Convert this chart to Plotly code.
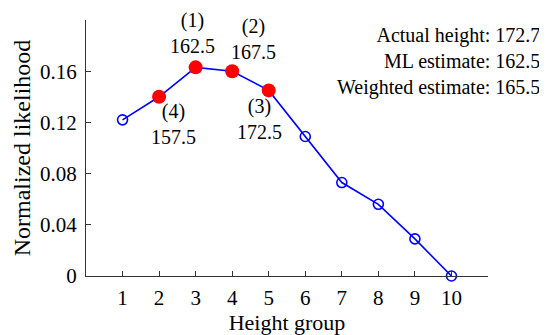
import plotly.graph_objects as go

groups = [1, 2, 3, 4, 5, 6, 7, 8, 9, 10]
likelihood = [0.122, 0.140, 0.163, 0.160, 0.145, 0.109, 0.073, 0.056, 0.029, 0.0]
selected_groups = [2, 3, 4, 5]
selected_likelihood = [0.140, 0.163, 0.160, 0.145]
y_ticks = [0, 0.04, 0.08, 0.12, 0.16]
y_tick_labels = ["0", "0.04", "0.08", "0.12", "0.16"]
rank_labels = ["(1)<br>162.5", "(2)<br>167.5", "(3)<br>172.5", "(4)<br>157.5"]
rank_x = [2.91, 4.59, 4.755, 2.385]
rank_y = [0.190, 0.185, 0.1225, 0.119]
info_text = "Actual height: 172.7<br>ML estimate: 162.5<br>Weighted estimate: 165.5"

FONT = "Liberation Serif"

fig = go.Figure()
fig.add_trace(go.Scatter(
    x=groups, y=likelihood, mode="lines+markers",
    line=dict(color="#0000FF", width=1.6),
    marker=dict(symbol="circle-open", size=10, color="#0000FF", line=dict(width=1.6)),
    cliponaxis=False, showlegend=False,
))
fig.add_trace(go.Scatter(
    x=selected_groups, y=selected_likelihood, mode="markers",
    marker=dict(symbol="circle", size=14, color="#FF0000", line=dict(width=0)),
    cliponaxis=False, showlegend=False,
))

for t, x, y in zip(rank_labels, rank_x, rank_y):
    fig.add_annotation(x=x, y=y, xref="x", yref="y", text=t, showarrow=False,
                       xanchor="center", yanchor="middle",
                       font=dict(family=FONT, size=20, color="black"))

fig.add_annotation(x=1.134, y=0.837, xref="paper", yref="paper", text=info_text,
                   showarrow=False, xanchor="right", yanchor="middle", align="right",
                   font=dict(family=FONT, size=20, color="black"))

# page body has an 8px margin, so the figure is shifted by 8px; compensate
fig.update_layout(
    width=539, height=327,
    margin=dict(l=78, r=59, t=12, b=59),
    paper_bgcolor="white", plot_bgcolor="white",
    font=dict(family=FONT, size=20, color="black"),
    xaxis=dict(range=[0, 11], tickvals=groups, showgrid=False, zeroline=False,
               showline=True, linecolor="#333333", linewidth=1.2,
               ticks="inside", ticklen=5, tickcolor="#333333", automargin=False,
               tickfont=dict(family=FONT, size=21), ticklabelstandoff=3,
               title=dict(text="Height group", font=dict(family=FONT, size=22), standoff=12)),
    yaxis=dict(range=[0, 0.2], tickvals=y_ticks, ticktext=y_tick_labels, showgrid=False,
               zeroline=False, showline=True, linecolor="#333333", linewidth=1.2,
               ticks="inside", ticklen=5, tickcolor="#333333", automargin=False,
               tickfont=dict(family=FONT, size=21), ticklabelstandoff=4,
               title=dict(text="Normalized likelihood", font=dict(family=FONT, size=24), standoff=2)),
)

fig.write_html("out.html")
